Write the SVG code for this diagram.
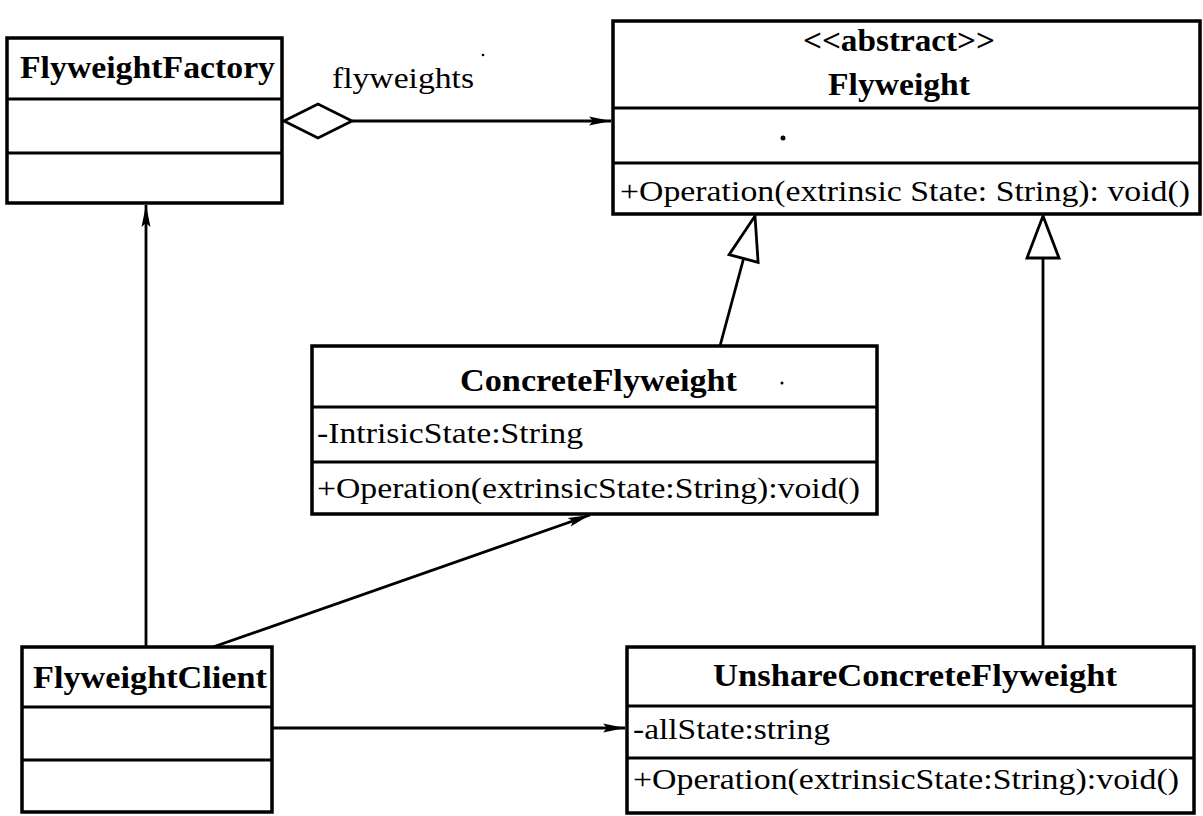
<svg xmlns="http://www.w3.org/2000/svg" width="1203" height="816" viewBox="0 0 1203 816">
<defs>
<style>
.box{fill:#fff;stroke:#000;stroke-width:3.5}
.div{stroke:#000;stroke-width:3}
.t{font-family:"Liberation Serif","Times New Roman",serif;font-size:29px;fill:#000}
.b{font-family:"Liberation Serif","Times New Roman",serif;font-size:31px;font-weight:bold;fill:#000}
.ln{fill:none;stroke:#000;stroke-width:2.8}
.tri{fill:#fff;stroke:#000;stroke-width:2.8;stroke-linejoin:miter}
</style>
<marker id="arr" markerUnits="userSpaceOnUse" markerWidth="24" markerHeight="14" refX="22" refY="7" orient="auto">
<path d="M0,2.5 L22,7 L0,11.5 L4,7 Z" fill="#000"/>
</marker>
</defs>
<rect width="1203" height="816" fill="#fff"/>
<g id="connectors">
<line class="ln" x1="352" y1="121" x2="611" y2="121" marker-end="url(#arr)"/>
<polygon class="tri" points="284,121 318,104 352,121 318,138"/>
<line class="ln" x1="720" y1="346" x2="743.6" y2="258.5"/>
<polygon class="tri" points="755,216 729.1,254.6 758.1,262.4"/>
<line class="ln" x1="1043" y1="647" x2="1043" y2="258"/>
<polygon class="tri" points="1043,216 1027,258 1059,258"/>
<line class="ln" x1="146" y1="647" x2="146" y2="205" marker-end="url(#arr)"/>
<line class="ln" x1="213" y1="647" x2="590" y2="515" marker-end="url(#arr)"/>
<line class="ln" x1="272" y1="728" x2="625" y2="728" marker-end="url(#arr)"/>
</g>
<g id="FlyweightFactory">
<rect class="box" x="7" y="38" width="275" height="165"/>
<line class="div" x1="7" y1="99" x2="282" y2="99"/>
<line class="div" x1="7" y1="153" x2="282" y2="153"/>
<text class="b" x="20" y="78" textLength="255" lengthAdjust="spacingAndGlyphs">FlyweightFactory</text>
</g>
<g id="label-flyweights">
<text class="t" x="332" y="88" textLength="142" lengthAdjust="spacingAndGlyphs">flyweights</text>
<circle cx="483" cy="55" r="1.3" fill="#000"/>
</g>
<g id="Flyweight">
<rect class="box" x="613" y="21" width="587" height="193"/>
<line class="div" x1="613" y1="108" x2="1200" y2="108"/>
<line class="div" x1="613" y1="163" x2="1200" y2="163"/>
<text class="b" x="803" y="51" font-size="28" textLength="192" lengthAdjust="spacingAndGlyphs">&lt;&lt;abstract&gt;&gt;</text>
<text class="b" x="828" y="95" textLength="142" lengthAdjust="spacingAndGlyphs">Flyweight</text>
<circle cx="783" cy="138" r="2.5" fill="#000"/>
<text class="t" x="620" y="201" textLength="570" lengthAdjust="spacingAndGlyphs">+Operation(extrinsic State: String): void()</text>
</g>
<g id="ConcreteFlyweight">
<rect class="box" x="312" y="346" width="565" height="168"/>
<line class="div" x1="312" y1="407" x2="877" y2="407"/>
<line class="div" x1="312" y1="462" x2="877" y2="462"/>
<text class="b" x="460" y="391" textLength="277" lengthAdjust="spacingAndGlyphs">ConcreteFlyweight</text>
<circle cx="782" cy="383" r="1.5" fill="#000"/>
<text class="t" x="317" y="443" textLength="266" lengthAdjust="spacingAndGlyphs">-IntrisicState:String</text>
<text class="t" x="317" y="498" textLength="543" lengthAdjust="spacingAndGlyphs">+Operation(extrinsicState:String):void()</text>
</g>
<g id="FlyweightClient">
<rect class="box" x="22" y="647" width="250" height="165"/>
<line class="div" x1="22" y1="707" x2="272" y2="707"/>
<line class="div" x1="22" y1="760" x2="272" y2="760"/>
<text class="b" x="33" y="688" textLength="234" lengthAdjust="spacingAndGlyphs">FlyweightClient</text>
</g>
<g id="UnshareConcreteFlyweight">
<rect class="box" x="627" y="647" width="567" height="166"/>
<line class="div" x1="627" y1="706" x2="1194" y2="706"/>
<line class="div" x1="627" y1="758" x2="1194" y2="758"/>
<text class="b" x="713" y="686" textLength="404" lengthAdjust="spacingAndGlyphs">UnshareConcreteFlyweight</text>
<text class="t" x="633" y="739" textLength="197" lengthAdjust="spacingAndGlyphs">-allState:string</text>
<text class="t" x="633" y="789" textLength="546" lengthAdjust="spacingAndGlyphs">+Operation(extrinsicState:String):void()</text>
</g>
</svg>
